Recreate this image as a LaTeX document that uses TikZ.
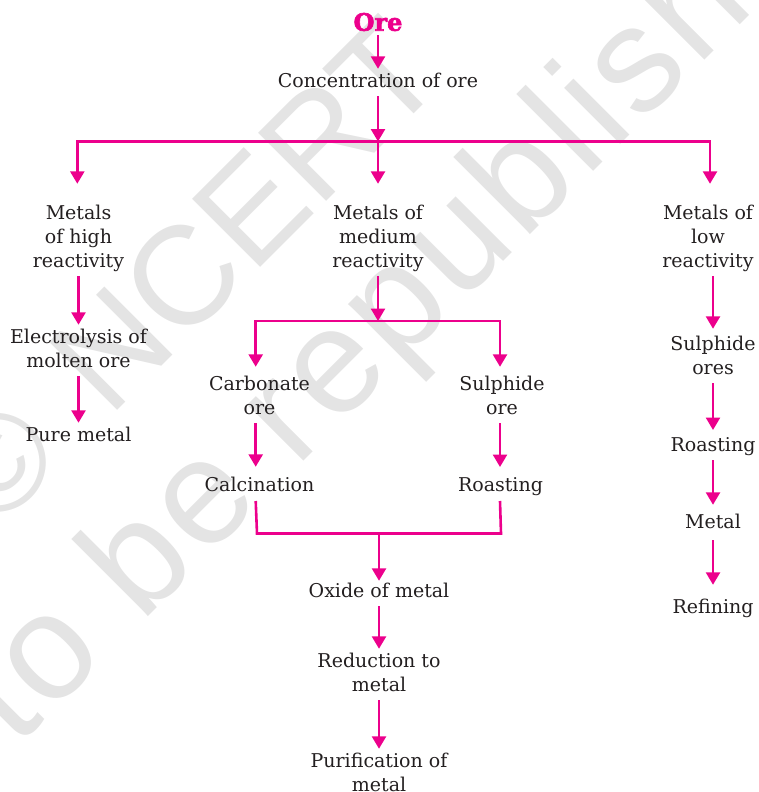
\documentclass[tikz,border=0pt]{standalone}
\usepackage{fontspec}
\setmainfont{DejaVu Serif}
\newfontfamily\wmfont{Liberation Sans}
\newfontfamily\wmwide[LetterSpace=3.5]{Liberation Sans}
\newfontfamily\orefont[FakeBold=2.6]{DejaVu Serif Bold}
\usetikzlibrary{arrows.meta}
\definecolor{pnk}{RGB}{236,0,140}
\definecolor{wm}{RGB}{228,228,228}
\definecolor{ink}{RGB}{35,31,32}
\newcommand{\lblstrut}{\rule[-5pt]{0pt}{19pt}}
\tikzset{
  x=1pt,y=-1pt,
  lbl/.style={align=center,font=\fontsize{19}{24}\selectfont,text=ink,inner sep=0pt,outer sep=4pt,
     execute at begin node=\lblstrut, execute at end node=\lblstrut},
  wire/.style={draw=pnk,line width=2.6pt},
  arr/.style={wire,-{Triangle[length=12.5pt,width=14pt]}},
  water/.style={text=wm,inner sep=0pt,rotate=45,anchor=base west}
}
\begin{document}
\begin{tikzpicture}
\useasboundingbox (0,0) rectangle (758,792);
\begin{scope}
\clip (0,0) rectangle (758,792);
\node[water,font=\wmfont\fontsize{140}{140}\selectfont] (wmA) at (-6,534) {©\hspace{21pt} NCERT};
\node[water,font=\wmwide\fontsize{150}{150}\selectfont] (wmB) at (16,749) {to be republished};
\end{scope}
\node[text=pnk,font=\orefont\fontsize{24}{24}\selectfont,inner sep=0pt,outer sep=4pt] (ore) at (378,22) {Ore};
\node[lbl] (conc) at (378,82.5) {Concentration of ore};
\node[lbl] (high) at (78.5,238.5) {Metals\\of high\\reactivity};
\node[lbl] (med) at (378,238.5) {Metals of\\medium\\reactivity};
\node[lbl] (low) at (708,238.5) {Metals of\\low\\reactivity};
\node[lbl] (elec) at (78.5,350.5) {Electrolysis of\\molten ore};
\node[lbl] (pure) at (78.5,436.5) {Pure metal};
\node[lbl] (carb) at (259.5,397.5) {Carbonate\\ore};
\node[lbl] (sulo) at (502,397.5) {Sulphide\\ore};
\node[lbl] (calc) at (259.5,486.5) {Calcination};
\node[lbl] (roa) at (500.5,486.5) {Roasting};
\node[lbl] (oxide) at (379,592.5) {Oxide of metal};
\node[lbl] (redu) at (379,674.5) {Reduction to\\metal};
\node[lbl] (puri) at (379,774.5) {Purification of\\metal};
\node[lbl] (sulr) at (713,357.5) {Sulphide\\ores};
\node[lbl] (roar) at (713,446.5) {Roasting};
\node[lbl] (met) at (713,523.5) {Metal};
\node[lbl] (ref) at (713,608.5) {Refining};
% junction points
\coordinate (busT) at (378,141.5);
\coordinate (busTL) at (77.3,141.5);
\coordinate (busTR) at (710,141.5);
\coordinate (busM) at (378,321);
\coordinate (busML) at (255.7,321);
\coordinate (busMR) at (500,321);
\coordinate (busB) at (379,533.5);
\coordinate (busBL) at (257,533.5);
\coordinate (busBR) at (501,533.5);
\coordinate (calcEnd) at (255.7,501);
\coordinate (roaEnd) at (500,501);
% top
\draw[arr] (ore) -- (conc);
\draw[arr] (conc) -- (busT);
\draw[wire] ([xshift=-1.3pt]busTL) -- ([xshift=1.3pt]busTR);
\draw[arr,shorten >=17pt] (busTL) -- (high.north -| busTL);
\draw[arr,shorten >=17pt] (busT) -- (med);
\draw[arr,shorten >=17pt] (busTR) -- (low.north -| busTR);
% left
\draw[arr] (high) -- (elec);
\draw[arr] (elec) -- (pure);
% middle
\draw[arr] (med) -- (busM);
\draw[wire] ([xshift=-1.3pt]busML) -- ([xshift=1.3pt]busMR);
\draw[arr,shorten >=5pt] (busML) -- (carb.north -| busML);
\draw[arr,shorten >=5pt] (busMR) -- (sulo.north -| busMR);
\draw[arr,shorten >=6pt] (carb.south -| busML) -- (calc.north -| busML);
\draw[arr,shorten >=6pt] (sulo.south -| busMR) -- (roa.north -| busMR);
\draw[wire,line join=miter] (calcEnd) -- (busBL) -- (busBR) -- (roaEnd);
\draw[arr,shorten >=-2pt] (busB) -- (oxide);
\draw[arr] (oxide) -- (redu);
\draw[arr] (redu) -- (puri);
% right
\draw[arr,shorten >=3pt] (low.south -| sulr) -- (sulr);
\draw[arr,shorten >=3pt] (sulr) -- (roar);
\draw[arr,shorten >=5pt] (roar) -- (met);
\draw[arr,shorten >=10pt,shorten <=3pt] (met) -- (ref);
\end{tikzpicture}
\end{document}
